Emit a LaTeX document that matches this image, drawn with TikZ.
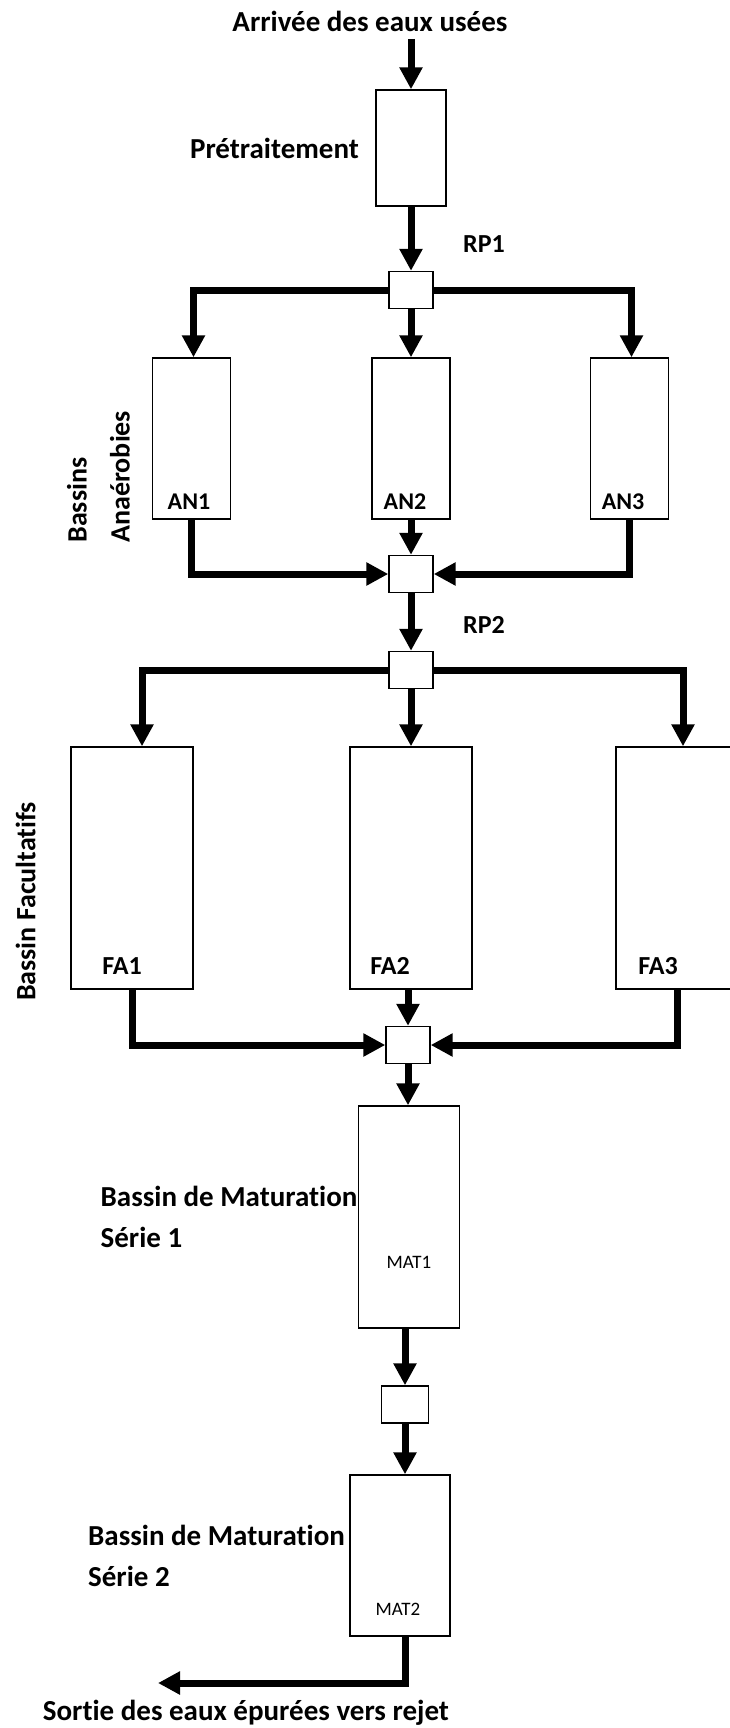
\documentclass[tikz,border=0pt]{standalone}
\usepackage{fontspec}
\setmainfont{Carlito}[Ligatures={NoCommon}]
\usetikzlibrary{positioning,arrows.meta}

\tikzset{
	basin/.style={draw, line width=0.7pt, fill=white, inner sep=0pt},
	chamber/.style={basin, minimum width=22pt, minimum height=18.5pt},
	flow/.style={line width=3.5pt, -{Triangle[width=11pt,length=11pt]}},
	capt/.style={inner sep=0pt, font=\fontsize{14.5}{20.5}\selectfont\bfseries},
	idtxt/.style={inner sep=0pt, font=\fontsize{13}{15}\selectfont\bfseries},
	mattxt/.style={inner sep=0pt, font=\fontsize{9.5}{11}\selectfont}
}

\begin{document}
\begin{tikzpicture}[x=0.5pt, y=-0.5pt]
	\useasboundingbox (0,0) rectangle (729,1728);

	% arrivee + pretraitement
	\node[capt] (arr) at (370,21) {Arrivée des eaux usées};
	\coordinate (inlet) at (411,39);
	\node[basin, minimum width=35pt, minimum height=58pt] (pre) at (411,148) {};
	\node[capt, left=8pt of pre] (pre-txt) {Prétraitement};

	\node[chamber] (rp1) at (411,290) {};
	\node[idtxt] (rp1-txt) at (484,244) {RP1};

	% bassins anaerobies
	\node[basin, minimum width=39pt, minimum height=80.5pt] (an1) at (191.5,438.5) {};
	\node[basin, minimum width=39pt, minimum height=80.5pt] (an2) at (411,438.5) {};
	\node[basin, minimum width=39pt, minimum height=80.5pt] (an3) at (629.5,438.5) {};
	\node[idtxt, font=\fontsize{12}{14}\selectfont\bfseries] (an1-txt) at (189,502) {AN1};
	\node[idtxt, font=\fontsize{12}{14}\selectfont\bfseries] (an2-txt) at (405,502) {AN2};
	\node[idtxt, font=\fontsize{12}{14}\selectfont\bfseries] (an3-txt) at (623,502) {AN3};
	\node[capt, font=\fontsize{14}{21.5}\selectfont\bfseries, rotate=90, align=left, anchor=west] (an-txt) at (98.5,543) {Bassins\\Anaérobies};

	\node[chamber] (c1) at (411,574) {};
	\node[chamber] (rp2) at (411,670) {};
	\node[idtxt] (rp2-txt) at (484,625) {RP2};

	% bassins facultatifs
	\node[basin, minimum width=61pt, minimum height=121pt] (fa1) at (132,868) {};
	\node[basin, minimum width=61pt, minimum height=121pt] (fa2) at (411,868) {};
	\node[basin, minimum width=61pt, minimum height=121pt] (fa3) at (677,868) {};
	\node[idtxt] (fa1-txt) at (122,966) {FA1};
	\node[idtxt] (fa2-txt) at (390,966) {FA2};
	\node[idtxt] (fa3-txt) at (658,966) {FA3};
	\node[capt, font=\fontsize{14}{16}\selectfont\bfseries, rotate=90] (fa-txt) at (25.6,901.5) {Bassin Facultatifs};

	\node[chamber] (c2) at (408,1045) {};

	% maturation
	\node[basin, minimum width=50.5pt, minimum height=111pt] (mat1) at (409,1217) {};
	\node[capt, align=left, left=0pt of mat1] (mat1-txt) {Bassin de Maturation\\Série 1};
	\node[mattxt] (mat1-id) at (409,1262) {MAT1};

	\node[chamber, minimum width=23.5pt] (c3) at (405,1404.5) {};

	\node[basin, minimum width=50pt, minimum height=80.5pt] (mat2) at (400,1555.5) {};
	\node[capt, align=left, left=2pt of mat2] (mat2-txt) {Bassin de Maturation\\Série 2};
	\node[mattxt] (mat2-id) at (398,1609) {MAT2};

	\coordinate (outlet) at (158,1683);
	\node[capt] (out-txt) at (246,1713) {Sortie des eaux épurées vers rejet};

	% liaisons
	\draw[flow] (inlet) -- (pre.north);
	\draw[flow] (pre.south) -- (rp1.north);
	\draw[flow] (rp1.west) -| ([xshift=1pt]an1.north);
	\draw[flow] (rp1.south) -- (an2.north);
	\draw[flow] (rp1.east) -| ([xshift=1pt]an3.north);

	\draw[flow] (an1.south) |- (c1.west);
	\draw[flow] (an2.south) -- (c1.north);
	\draw[flow] (an3.south) |- (c1.east);
	\draw[flow] (c1.south) -- (rp2.north);

	\draw[flow] (rp2.west) -| ([xshift=5pt]fa1.north);
	\draw[flow] (rp2.south) -- (fa2.north);
	\draw[flow] (rp2.east) -| ([xshift=3pt]fa3.north);

	\draw[flow] (fa1.south) |- (c2.west);
	\draw[flow] (fa2.south -| c2) -- (c2.north);
	\draw[flow] (fa3.south) |- (c2.east);

	\draw[flow] (c2.south) -- (c2.south |- mat1.north);
	\draw[flow] (mat1.south -| c3) -- (c3.north);
	\draw[flow] (c3.south) -- (c3.south |- mat2.north);
	\draw[flow] (mat2.south -| c3) |- (outlet);
\end{tikzpicture}
\end{document}
